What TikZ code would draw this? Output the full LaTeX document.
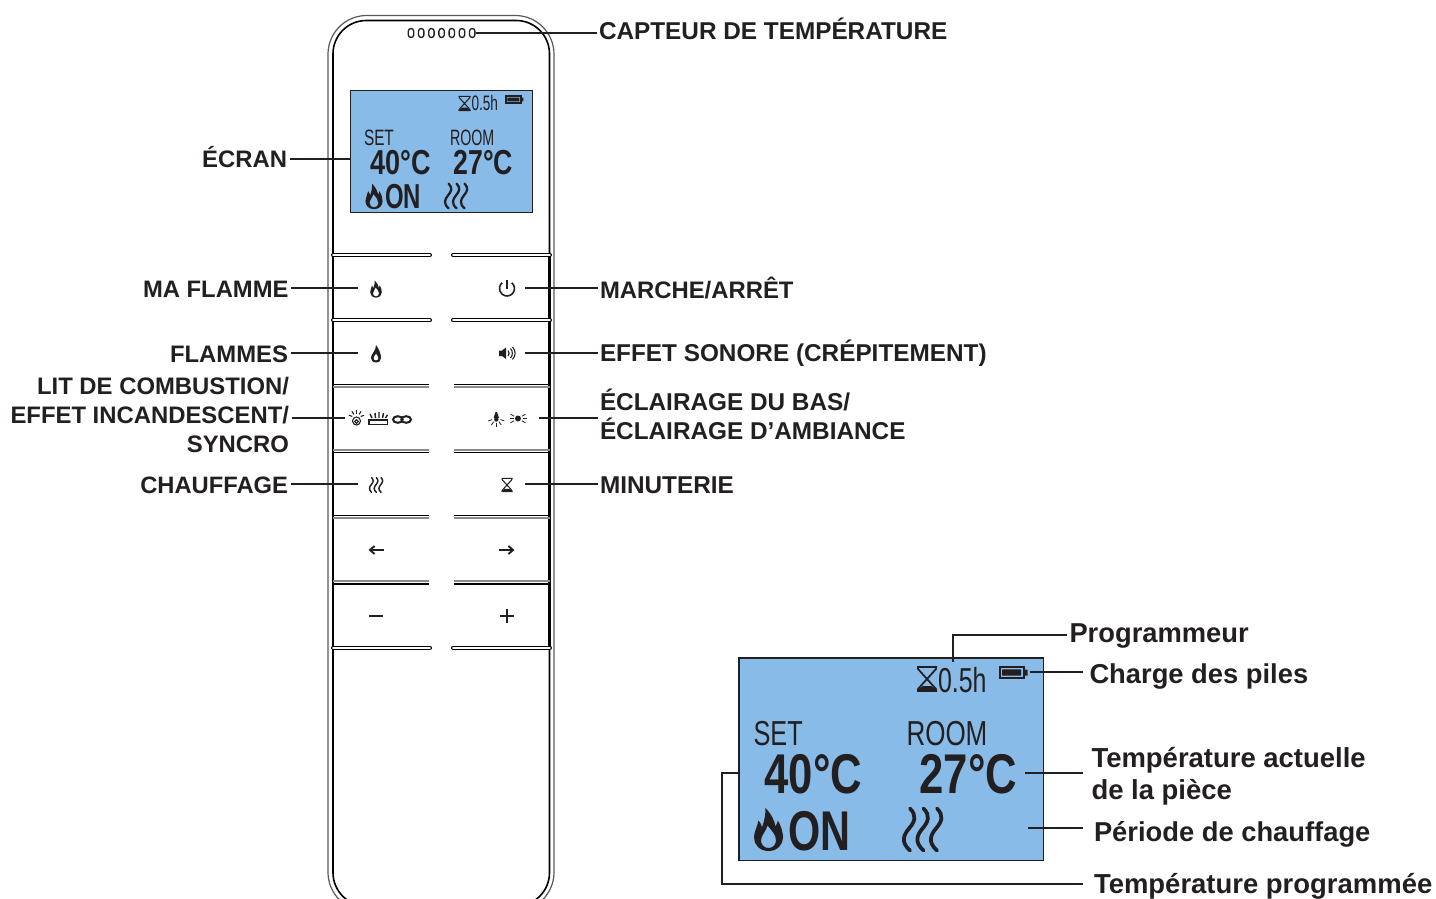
\documentclass[tikz,border=0pt]{standalone}
\usepackage{graphicx}
\usepackage{fontspec}
\setmainfont{Liberation Sans}
\usetikzlibrary{calc,arrows.meta}

\definecolor{inkblack}{RGB}{35,31,32}
\definecolor{lcdblue}{RGB}{136,187,231}
\definecolor{railgray}{RGB}{140,140,140}

\newcommand{\lcdtext}[2]{\scalebox{#1}[1]{#2}}

\tikzset{every picture/.style={line width=0.75pt}}
\tikzset{
  every pic/.style={yscale=-1},
  labeltext/.style={font=\bfseries\fontsize{#1}{21.6}\selectfont,text=inkblack,inner sep=1.5pt},
  labeltext/.default=18.25,
  lcdtxt/.style={text=inkblack,inner sep=0pt,anchor=base west},
  leader/.style={draw=inkblack,line width=1.3pt},
  bodyouter/.style={draw=inkblack!75,line width=0.9pt,rounded corners=29},
  bodyinner/.style={draw=black,line width=1.2pt,rounded corners=25},
  wall/.style={draw=black,line width=1.7pt},
  lcdpanel/.style={draw=inkblack,line width=0.8pt,fill=lcdblue},
  railblack/.style={draw=black,line width=0.9pt},
  railsoft/.style={draw=railgray,line width=1.3pt},
  iconline/.style={draw=inkblack,line width=0.8pt},
  heatline/.style={line width=2.8pt},
  hourline/.style={line width=1.3pt},
  flameicon/.pic={
    \fill[inkblack,even odd rule] (0,21.5) .. controls (-9,21.5) and (-14.5,15) .. (-14.5,8) .. controls (-14.5,2) and (-11,-3) .. (-10,-9) .. controls (-7.5,-6) and (-7,-4) .. (-6.5,-2) .. controls (-4,-9) and (-3,-15) .. (-3,-21.5) .. controls (3,-15) and (6,-9) .. (7,-3) .. controls (8,-5) and (9,-7) .. (9.5,-9) .. controls (12.5,-3) and (14.5,2) .. (14.5,8) .. controls (14.5,15) and (9,21.5) .. (0,21.5) -- cycle
    (0,18.5) .. controls (-4.5,18.5) and (-7.5,15) .. (-7.5,11) .. controls (-7.5,6) and (-2.5,2) .. (-1,-4) .. controls (3,1) and (7.5,5) .. (7.5,11) .. controls (7.5,15) and (4.5,18.5) .. (0,18.5) -- cycle;
  },
  heaticon/.pic={
    \foreach \i in {-13.5,0,13.5}
      \draw[inkblack,heatline,line cap=round] (\i+1,-21) .. controls (\i+8,-14) and (\i+6,-8) .. (\i,-1) .. controls (\i-6,6) and (\i-8,13) .. (\i+1,21);
  },
  hourglassicon/.pic={
    \draw[inkblack,hourline] (-10,-12) -- (10,-12) (-9,-12) -- (-9,-10) -- (9,10) -- (9,12) (9,-12) -- (9,-10) -- (-9,10) -- (-9,12) (-10,12) -- (10,12);
    \fill[inkblack] (-10,12.5) -- (-9,10.5) -- (-4,7) -- (4,7) -- (9,10.5) -- (10,12.5) -- cycle;
  },
  batteryicon/.pic={
    \draw[inkblack,line width=1.5pt] (-13,-5.5) rectangle (11,5.5);
    \fill[inkblack] (-10.5,-3.2) rectangle (8.5,3.2) (11,-3) rectangle (15,3);
  },
}

\begin{document}
\begin{tikzpicture}[x=0.75pt,y=0.75pt,yscale=-1,xscale=1]
\useasboundingbox (0,0) rectangle (1436,899);
\clip (0,0) rectangle (1436,899);

%Shape: remote body
\draw[bodyouter] (328,15.5) rectangle (554,911);
\draw[bodyinner] (333,20.5) rectangle (549.5,906);
\draw[wall] (333,255) -- (333,648);
\draw[wall] (549.5,255) -- (549.5,648);

%Shape: sensor holes
\foreach \x in {411,421.2,431.4,441.6,451.8,462,472.2}
  \draw[draw=inkblack,line width=1pt,rounded corners=2] (\x-2.7,28.5) rectangle (\x+2.7,37.5);
\coordinate (sensorend) at (476,33);

%Shape: button rails, rounded ones
\foreach \y in {255,320.3,647.7}{
  \draw[draw=black,line width=3pt,line cap=round] (333,\y) -- (430,\y) (453,\y) -- (550,\y);
  \draw[draw=white,line width=1.3pt,line cap=round] (333,\y) -- (430,\y) (453,\y) -- (550,\y);
}
%Shape: button rails, double ones
\foreach \y/\k in {384.8/387.3,452.3/449.8,515.8/518.3,584/581.2}{
  \draw[railblack] (333,\y) -- (429,\y) (454,\y) -- (550,\y);
  \draw[railsoft] (333,\k) -- (429,\k) (454,\k) -- (550,\k);
}

%Shape: small screen
\draw[lcdpanel] (350.5,90.5) rectangle (532.5,212.5);
\node[lcdtxt,font=\fontsize{15.7}{18}\selectfont] (smalltimer) at (471,110.5) {\lcdtext{0.65}{0.5h}};
\node[lcdtxt,font=\fontsize{16.7}{19}\selectfont] (smallset) at (363.5,146) {\lcdtext{0.69}{SET}};
\node[lcdtxt,font=\fontsize{16.7}{19}\selectfont] (smallroom) at (449.5,146) {\lcdtext{0.64}{ROOM}};
\node[lcdtxt,font=\bfseries\fontsize{26}{30}\selectfont] (smallsetval) at (370,174.5) {\lcdtext{0.78}{40°C}};
\node[lcdtxt,font=\bfseries\fontsize{26}{30}\selectfont] (smallroomval) at (453,174.5) {\lcdtext{0.77}{27°C}};
\node[lcdtxt,font=\bfseries\fontsize{26}{30}\selectfont] (smallon) at (384.5,208) {\lcdtext{0.69}{ON}};
\pic[scale=0.6,hourline/.style={line width=0.8pt}] at (464.5,103.5) {hourglassicon};
\pic[scale=0.62] at (514,99.5) {batteryicon};
\pic[scale=0.59] at (374,196.5) {flameicon};
\pic[scale=0.59,heatline/.style={line width=1.7pt}] at (456,196) {heaticon};

%Shape: button icons, left column
\pic[scale=0.4] at (376,289) {flameicon};
\fill[inkblack,even odd rule] (376,362.5) .. controls (372,362.5) and (371,359.5) .. (371,357.5) .. controls (371,354) and (376,351) .. (376,345) .. controls (379,349) and (381,354) .. (381,357.5) .. controls (381,360) and (380,362.5) .. (376,362.5) -- cycle (376,360.5) .. controls (374.5,360.5) and (373.5,359.5) .. (373.5,358) .. controls (373.5,356.5) and (375,355.5) .. (376,353.5) .. controls (377,355.5) and (378.5,356.5) .. (378.5,358) .. controls (378.5,359.5) and (377.5,360.5) .. (376,360.5) -- cycle;
%ember icon
\draw[iconline] (356.5,421) circle (4);
\draw[iconline] (356.5,421.5) circle (1.8);
\foreach \a in {200,235,270,305,340}
  \draw[iconline] ($(356.5,418)+(\a:4.5)$) -- ($(356.5,418)+(\a:8)$);
%log bed icon
\draw[iconline] (369,420) rectangle (387.5,424.5);
\draw[iconline,line width=1.1pt] (372,418) -- (370,414) (375.5,418) -- (375,413) (379,418) -- (379,412) (382.5,418) -- (383.5,413) (385.5,418) -- (387.5,415);
%sync icon
\draw[inkblack,line width=1.5pt] (397.8,419.5) ellipse (4.8 and 3.3);
\draw[inkblack,line width=1.5pt] (406.2,419.5) ellipse (4.8 and 3.3);
\pic[scale=0.35,heatline/.style={line width=1.1pt}] at (376,485) {heaticon};
\draw[inkblack,line width=1.4pt,-{Straight Barb[length=3.5pt,width=6pt]}] (384,550) -- (368.5,550);
\draw[inkblack,line width=1.4pt] (369,616) -- (383,616);

%Shape: button icons, right column
\draw[inkblack,line width=1.2pt] (511.8,282.75) arc (-50:230:7.5);
\draw[inkblack,line width=1.2pt] (507,280) -- (507,289);
%speaker icon
\fill[inkblack] (499,350.5) -- (502,350.5) -- (506,347.5) -- (506,359) -- (502,356) -- (499,356) -- cycle;
\draw[iconline] (508,350.5) .. controls (509.5,352) and (509.5,354.5) .. (508,356) (510.5,348.5) .. controls (513,351) and (513,355.5) .. (510.5,358) (512.5,347) .. controls (516,350.5) and (516,356) .. (512.5,359.5);
%downlight icon
\fill[inkblack] (493.5,418) -- (494.5,415) -- (495.5,412) -- (497,412) -- (498,415) -- (499,418) -- cycle;
\fill[inkblack] (496.3,419.5) circle (2.2);
\foreach \a in {20,55,90,125,160}
  \draw[draw=inkblack,line width=0.6pt] ($(496.3,418)+(\a:4.5)$) -- ($(496.3,418)+(\a:8.5)$);
%ambient icon
\fill[inkblack] (518,418.5) circle (3);
\foreach \a in {-30,0,30,150,180,210}
  \draw[draw=inkblack,line width=0.6pt] ($(518,418.5)+(\a:4.5)$) -- ($(518,418.5)+(\a:8.5)$);
\pic[scale=0.55,hourline/.style={line width=0.8pt}] at (507,485) {hourglassicon};
\draw[inkblack,line width=1.4pt,-{Straight Barb[length=3.5pt,width=6pt]}] (499,550) -- (514.5,550);
\draw[inkblack,line width=1.4pt] (500,616) -- (514,616) (507,609) -- (507,623);

%Shape: large screen
\draw[lcdpanel] (739,658) rectangle (1043.5,860.5);
\node[lcdtxt,font=\fontsize{26}{30}\selectfont] (bigtimer) at (937.5,692) {\lcdtext{0.72}{0.5h}};
\node[lcdtxt,font=\fontsize{26}{30}\selectfont] (bigset) at (753,745) {\lcdtext{0.73}{SET}};
\node[lcdtxt,font=\fontsize{26}{30}\selectfont] (bigroom) at (906,745) {\lcdtext{0.75}{ROOM}};
\node[lcdtxt,font=\bfseries\fontsize{42}{48}\selectfont] (bigsetval) at (764,793) {\lcdtext{0.78}{40°C}};
\node[lcdtxt,font=\bfseries\fontsize{42}{48}\selectfont] (bigroomval) at (919,793) {\lcdtext{0.78}{27°C}};
\node[lcdtxt,font=\bfseries\fontsize{42}{48}\selectfont] (bigon) at (788,850) {\lcdtext{0.74}{ON}};
\pic at (927,679) {hourglassicon};
\pic at (1012.5,672.5) {batteryicon};
\pic at (768.5,829.5) {flameicon};
\pic at (922.5,829.5) {heaticon};

% Leader ends
\coordinate (ecranend) at (350,159);
\coordinate (flammeend) at (358,288);
\coordinate (flammesend) at (358,353);
\coordinate (litend) at (345,418);
\coordinate (chauffageend) at (358,484);
\coordinate (marcheend) at (525,288);
\coordinate (effetend) at (525,353);
\coordinate (eclairageend) at (539,418);
\coordinate (minuterieend) at (525,484);
\coordinate (progend) at (953,662);
\coordinate (progbend) at (953,635);
\coordinate (chargeend) at (1030,672);
\coordinate (chargestart) at (1083,672);
\coordinate (actuelleend) at (1025,773);
\coordinate (actuellestart) at (1083,773);
\coordinate (periodeend) at (1028,828);
\coordinate (periodestart) at (1083,828);
\coordinate (prgend) at (739,773);
\coordinate (prgbendtop) at (722,773);
\coordinate (prgbendlow) at (722,884);
\coordinate (prgstart) at (1083,884);

% Text Node
\node[labeltext,anchor=base west] (capteur) at (596.5,40) {CAPTEUR DE TEMPÉRATURE};
% Text Node
\node[labeltext=17.9,anchor=base east] (ecran) at (289.5,167) {ÉCRAN};
% Text Node
\node[labeltext=17.85,anchor=base east] (maflamme) at (291,297) {MA FLAMME};
% Text Node
\node[labeltext=17.9,anchor=base east] (flammes) at (290.5,362) {FLAMMES};
% Text Node
\node[labeltext=17.9,anchor=east,align=right] (lit) at (291.5,415) {LIT DE COMBUSTION/\\EFFET INCANDESCENT/\\SYNCRO};
% Text Node
\node[labeltext=17.8,anchor=base east] (chauffage) at (290.5,493) {CHAUFFAGE};
% Text Node
\node[labeltext=17.9,anchor=base west] (marche) at (597.5,298) {MARCHE/ARRÊT};
% Text Node
\node[labeltext,anchor=base west] (effet) at (597.5,361) {EFFET SONORE (CRÉPITEMENT)};
% Text Node
\node[labeltext,anchor=west,align=left] (eclairage) at (597.5,414.5) {ÉCLAIRAGE DU BAS/\\ÉCLAIRAGE D’AMBIANCE};
% Text Node
\node[labeltext,anchor=base west] (minuterie) at (597.5,493) {MINUTERIE};
% Text Node
\node[labeltext=20.5,anchor=base west] (programmeur) at (1067,642.5) {Programmeur};
% Text Node
\node[labeltext=20.5,anchor=base west] (charge) at (1087,683.5) {Charge des piles};
% Text Node
\node[labeltext=20.6,anchor=west,align=left,font=\bfseries\fontsize{20.6}{23.9}\selectfont] (actuelle) at (1089,776.5) {Température actuelle\\de la pièce};
% Text Node
\node[labeltext=20.5,anchor=base west] (periode) at (1091.5,841.5) {Période de chauffage};
% Text Node
\node[labeltext=20.6,anchor=base west] (programmee) at (1091.5,893.5) {Température programmée};

%Leader lines
\draw[leader] (capteur.west |- sensorend) -- (sensorend);
\draw[leader] (ecran.east |- ecranend) -- (ecranend);
\draw[leader] (maflamme.east |- flammeend) -- (flammeend);
\draw[leader] (flammes.east |- flammesend) -- (flammesend);
\draw[leader] (lit.east |- litend) -- (litend);
\draw[leader] (chauffage.east |- chauffageend) -- (chauffageend);
\draw[leader] (marche.west |- marcheend) -- (marcheend);
\draw[leader] (effet.west |- effetend) -- (effetend);
\draw[leader] (eclairage.west |- eclairageend) -- (eclairageend);
\draw[leader] (minuterie.west |- minuterieend) -- (minuterieend);
\draw[leader] (programmeur.west |- progbend) -- (progbend) -- (progend);
\draw[leader] (chargestart) -- (chargeend);
\draw[leader] (actuellestart) -- (actuelleend);
\draw[leader] (periodestart) -- (periodeend);
\draw[leader] (prgstart) -- (prgbendlow) -- (prgbendtop) -- (prgend);
\end{tikzpicture}
\end{document}
